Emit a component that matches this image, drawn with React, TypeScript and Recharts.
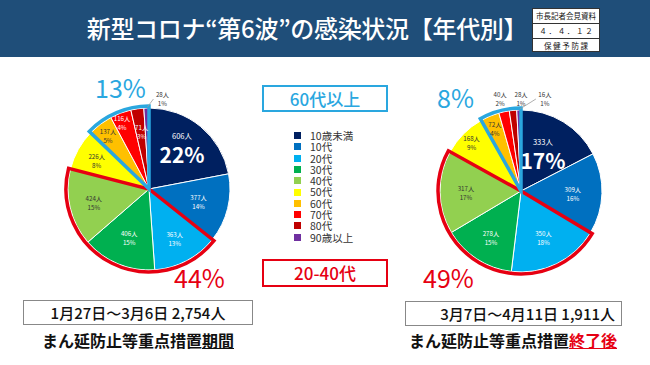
import { Cell, Pie, PieChart } from "recharts";

const FONT = '"Noto Sans CJK JP", "Noto Sans", sans-serif';

// age groups, clockwise from 12 o'clock
const AGE_GROUPS = ["10歳未満", "10代", "20代", "30代", "40代", "50代", "60代", "70代", "80代", "90歳以上"];
const AGE_COLORS = ["#002060", "#0070C0", "#00B0F0", "#00B050", "#92D050", "#FFFF00", "#FFC000", "#FF0000", "#C00000", "#7030A0"];

const PERIOD1_COUNTS = [606, 377, 363, 406, 424, 226, 137, 116, 71, 28];
const PERIOD2_COUNTS = [333, 309, 350, 278, 317, 168, 72, 40, 28, 16];
const PERIOD_DATES = ["1月27日～3月6日", "3月7日～4月11日"];

// share labels of the outlined groups, as printed on the slide
const SHARE_20_40 = ["44%", "49%"];
const SHARE_60_PLUS = ["13%", "8%"];

const GROUP_20_40 = [2, 4];
const GROUP_60_PLUS = [6, 9];

const RED = "#E60012";
const CYAN = "#2AA7DF";
const R = 81;
const LEGEND_STEP = 11.3;

type Spec =
  | { kind: "big"; r: number }
  | { kind: "in"; r: number; dark?: boolean; dx?: number }
  | { kind: "out"; dx: number; dy: number; line?: boolean };

const LEFT_SPECS: Spec[] = [
  { kind: "big", r: 0.64 },
  { kind: "in", r: 0.63 },
  { kind: "in", r: 0.68 },
  { kind: "in", r: 0.64 },
  { kind: "in", r: 0.7, dark: true },
  { kind: "in", r: 0.74, dark: true },
  { kind: "in", r: 0.84, dark: true },
  { kind: "in", r: 0.88, dx: -2 },
  { kind: "in", r: 0.72, dx: 1 },
  { kind: "out", dx: 16, dy: -7, line: true },
];

const RIGHT_SPECS: Spec[] = [
  { kind: "big", r: 0.52 },
  { kind: "in", r: 0.64 },
  { kind: "in", r: 0.63 },
  { kind: "in", r: 0.68 },
  { kind: "in", r: 0.68, dark: true },
  { kind: "in", r: 0.86, dark: true },
  { kind: "in", r: 0.84, dark: true },
  { kind: "out", dx: -4, dy: -11 },
  { kind: "out", dx: 8, dy: -9 },
  { kind: "out", dx: 26, dy: -9, line: true },
];

const RAD = Math.PI / 180;

function toRows(counts: number[]) {
  return counts.map((value, i) => ({ name: AGE_GROUPS[i], value }));
}

function sumRange(counts: number[], from: number, to: number) {
  return counts.slice(from, to + 1).reduce((a, b) => a + b, 0);
}

function outlineRows(counts: number[], range: number[]) {
  const total = sumRange(counts, 0, counts.length - 1);
  const before = range[0] > 0 ? sumRange(counts, 0, range[0] - 1) : 0;
  const inside = sumRange(counts, range[0], range[1]);
  return [
    { name: "before", value: before },
    { name: "group", value: inside },
    { name: "after", value: total - before - inside },
  ];
}

// two-line "N人 / P%" label as one text element
function TwoLine({ x, y, top, bottom, fill }: { x: number; y: number; top: string; bottom: string; fill: string }) {
  return (
    <text x={x} y={y} textAnchor="middle" fontSize={6.2} fill={fill} fontFamily={FONT}>
      <tspan x={x} dy={0}>{top}</tspan>
      <tspan x={x} dy={9}>{bottom}</tspan>
    </text>
  );
}

function makeLabel(specs: Spec[]) {
  return (props: any) => {
    const { cx, cy, midAngle, outerRadius, index, value, percent } = props;
    const spec = specs[index];
    const pct = `${Math.round(percent * 100)}%`;
    const cos = Math.cos(midAngle * RAD);
    const sin = Math.sin(midAngle * RAD);
    if (spec.kind === "out") {
      const ex = cx + outerRadius * cos;
      const ey = cy - outerRadius * sin;
      const lx = ex + spec.dx;
      const ly = ey + spec.dy;
      return (
        <g key={`l${index}`}>
          {spec.line && (
            <line x1={ex + 1} y1={ey - 1} x2={lx - 9} y2={ly - 2} stroke="#9a9a9a" strokeWidth={0.8} />
          )}
          <TwoLine x={lx} y={ly - 4} top={`${value}人`} bottom={pct} fill="#333" />
        </g>
      );
    }
    const x = cx + outerRadius * spec.r * cos;
    const y = cy - outerRadius * spec.r * sin;
    if (spec.kind === "big") {
      return (
        <g key={`l${index}`}>
          <text x={x} y={y - 10} textAnchor="middle" fill="#fff" fontFamily={FONT}>
            <tspan x={x} dy={0} fontSize={7.5}>{`${value}人`}</tspan>
            <tspan x={x} dy={24} fontSize={21} fontWeight={700}>{pct}</tspan>
          </text>
        </g>
      );
    }
    return (
      <g key={`l${index}`}>
        <TwoLine x={x + (spec.dx ?? 0)} y={y - 1} top={`${value}人`} bottom={pct} fill={spec.dark ? "#333" : "#fff"} />
      </g>
    );
  };
}

function AgePie(cx: number, cy: number, counts: number[], specs: Spec[], key: string) {
  return [
    <Pie
      key={`${key}-main`}
      data={toRows(counts)}
      dataKey="value"
      cx={cx}
      cy={cy}
      outerRadius={R}
      startAngle={90}
      endAngle={-270}
      stroke="#fff"
      strokeWidth={1}
      label={makeLabel(specs)}
      labelLine={false}
      isAnimationActive={false}
    >
      {counts.map((_, i) => (
        <Cell key={i} fill={AGE_COLORS[i]} />
      ))}
    </Pie>,
    <Pie
      key={`${key}-red`}
      data={outlineRows(counts, GROUP_20_40)}
      dataKey="value"
      cx={cx}
      cy={cy}
      outerRadius={R + 2}
      startAngle={90}
      endAngle={-270}
      isAnimationActive={false}
    >
      {[0, 1, 2].map((i) => (
        <Cell key={i} fill="none" stroke={i === 1 ? RED : "none"} strokeWidth={3.5} />
      ))}
    </Pie>,
    <Pie
      key={`${key}-cyan`}
      data={outlineRows(counts, GROUP_60_PLUS)}
      dataKey="value"
      cx={cx}
      cy={cy}
      outerRadius={R + 2}
      startAngle={90}
      endAngle={-270}
      isAnimationActive={false}
    >
      {[0, 1, 2].map((i) => (
        <Cell key={i} fill="none" stroke={i === 1 ? CYAN : "none"} strokeWidth={3.5} />
      ))}
    </Pie>,
  ];
}

const abs = (left: number, top: number, extra: React.CSSProperties = {}): React.CSSProperties => ({
  position: "absolute",
  left,
  top,
  ...extra,
});

export default function App() {
  const totals = [PERIOD1_COUNTS, PERIOD2_COUNTS].map((c) => c.reduce((a, b) => a + b, 0));
  return (
    <div style={abs(0, 0, { width: 650, height: 365, background: "#fff", fontFamily: FONT, overflow: "hidden", color: "#111" })}>
      {/* header band */}
      <div style={abs(0, 0, { width: 650, height: 57, background: "#1F4E79" })} />
      <div style={abs(0, 10, { width: 614, textAlign: "center", color: "#fff", fontSize: 24, fontWeight: 500, lineHeight: "36px", letterSpacing: -0.3 })}>
        新型コロナ“第6波”の感染状況【年代別】
      </div>
      <div style={abs(532, 8, { width: 68, height: 44, background: "#fff", border: "1px solid #333", boxSizing: "border-box", fontSize: 7.5, color: "#111" })}>
        {["市長記者会見資料", "４ ． ４ ． １ ２", "保 健 予 防 課"].map((t, i) => (
          <div
            key={t}
            style={{ height: 14, lineHeight: "14px", textAlign: "center", borderTop: i ? "1px solid #333" : "none", whiteSpace: "nowrap" }}
          >
            {t}
          </div>
        ))}
      </div>

      <div style={abs(0, 0)}>
        <PieChart width={650} height={365}>
          {AgePie(144, 184, PERIOD1_COUNTS, LEFT_SPECS, "p1")}
          {AgePie(516, 186, PERIOD2_COUNTS, RIGHT_SPECS, "p2")}
        </PieChart>
      </div>

      {/* group shares */}
      <div style={abs(95, 72, { color: CYAN, fontSize: 25, lineHeight: "30px" })}>{SHARE_60_PLUS[0]}</div>
      <div style={abs(174, 262, { color: RED, fontSize: 25, lineHeight: "30px" })}>{SHARE_20_40[0]}</div>
      <div style={abs(437, 82, { color: CYAN, fontSize: 25, lineHeight: "30px" })}>{SHARE_60_PLUS[1]}</div>
      <div style={abs(423, 262, { color: RED, fontSize: 25, lineHeight: "30px" })}>{SHARE_20_40[1]}</div>

      {/* center boxes */}
      <div style={abs(262, 85, { width: 126, height: 27, border: `2px solid ${CYAN}`, boxSizing: "border-box", color: CYAN, fontSize: 17, fontWeight: 500, textAlign: "center", lineHeight: "23px" })}>
        60代以上
      </div>
      <div style={abs(262, 259, { width: 126, height: 28, border: `2px solid ${RED}`, boxSizing: "border-box", color: RED, fontSize: 17, fontWeight: 500, textAlign: "center", lineHeight: "24px" })}>
        20-40代
      </div>

      {/* legend: swatches + one text block */}
      {AGE_COLORS.map((c, i) => (
        <div key={c} style={abs(294, 132 + i * LEGEND_STEP, { width: 7, height: 7, background: c })} />
      ))}
      <div style={abs(310, 130, { fontSize: 10.5, color: "#333", lineHeight: `${LEGEND_STEP}px`, whiteSpace: "pre" })}>
        {AGE_GROUPS.join("\n")}
      </div>

      {/* period boxes */}
      <div style={abs(23, 300, { width: 230, height: 25, border: "1px solid #888", boxSizing: "border-box", fontSize: 15, fontWeight: 500, textAlign: "center", lineHeight: "23px" })}>
        {`${PERIOD_DATES[0]} ${totals[0].toLocaleString("en-US")}人`}
      </div>
      <div style={abs(405, 301, { width: 217, height: 25, border: "1px solid #888", boxSizing: "border-box", fontSize: 15, fontWeight: 500, textAlign: "right", paddingRight: 6, lineHeight: "23px" })}>
        {`${PERIOD_DATES[1]} ${totals[1].toLocaleString("en-US")}人`}
      </div>
      <div style={abs(23, 328, { width: 230, textAlign: "center", fontSize: 16, fontWeight: 700, lineHeight: "24px" })}>
        まん延防止等重点措置<span style={{ textDecoration: "underline" }}>期間</span>
      </div>
      <div style={abs(400, 328, { width: 226, textAlign: "center", fontSize: 16, fontWeight: 700, lineHeight: "24px" })}>
        まん延防止等重点措置<span style={{ textDecoration: "underline", color: RED }}>終了後</span>
      </div>
    </div>
  );
}
